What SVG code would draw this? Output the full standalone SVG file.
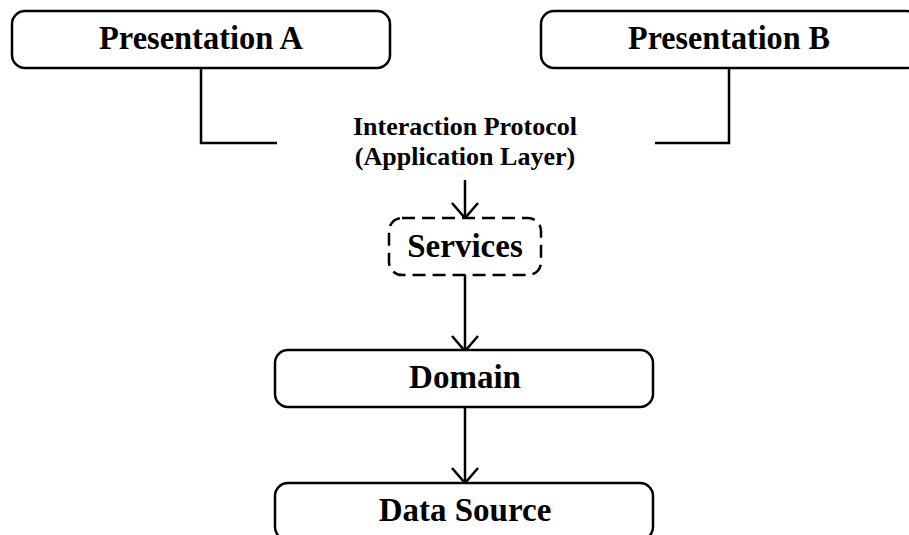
<svg xmlns="http://www.w3.org/2000/svg" width="909" height="535" viewBox="0 0 909 535">
<defs>
<style>
.box{fill:#fff;stroke:#000;stroke-width:2.5}
.dash{fill:#fff;stroke:#000;stroke-width:2.5;stroke-dasharray:13 7}
.ln{fill:none;stroke:#000;stroke-width:2.5}
.t{font-family:"Liberation Serif","Times New Roman",serif;font-weight:bold;text-anchor:middle;fill:#000}
.big{font-size:33px}
.sm{font-size:26px}
</style>
<marker id="arr" markerWidth="40" markerHeight="40" viewBox="-20 -20 40 40" refX="0" refY="0" orient="auto" markerUnits="userSpaceOnUse">
<path d="M-15,-13 L0,0 L-15,13" fill="none" stroke="#000" stroke-width="2.5"/>
</marker>
</defs>
<rect width="909" height="535" fill="#fff"/>
<g id="connectors">
<polyline class="ln" points="201,68 201,143 277,143"/>
<polyline class="ln" points="729,68 729,143 655,143"/>
<line class="ln" x1="465" y1="180" x2="465" y2="218" marker-end="url(#arr)"/>
<line class="ln" x1="465" y1="275" x2="465" y2="351" marker-end="url(#arr)"/>
<line class="ln" x1="465" y1="407" x2="465" y2="483" marker-end="url(#arr)"/>
</g>
<g id="presentationA">
<rect class="box" x="12" y="11" width="378" height="57" rx="13"/>
<text class="t big" x="201" y="49" textLength="204" lengthAdjust="spacingAndGlyphs">Presentation A</text>
</g>
<g id="presentationB">
<rect class="box" x="541" y="11" width="378" height="57" rx="13"/>
<text class="t big" x="729" y="49" textLength="202" lengthAdjust="spacingAndGlyphs">Presentation B</text>
</g>
<g id="protocol">
<text class="t sm" x="465" y="135">Interaction Protocol</text>
<text class="t sm" x="465" y="165">(Application Layer)</text>
</g>
<g id="services">
<rect class="dash" x="389" y="218" width="152" height="57" rx="13"/>
<text class="t big" x="465" y="257">Services</text>
</g>
<g id="domain">
<rect class="box" x="275" y="350" width="378" height="57" rx="13"/>
<text class="t big" x="465" y="388">Domain</text>
</g>
<g id="datasource">
<rect class="box" x="275" y="483" width="378" height="57" rx="13"/>
<text class="t big" x="465" y="521">Data Source</text>
</g>
</svg>
